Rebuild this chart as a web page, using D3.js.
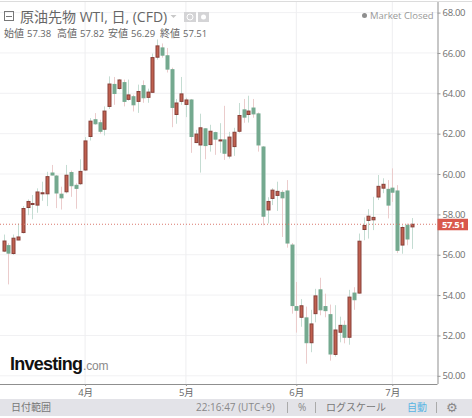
<!DOCTYPE html>
<html>
<head>
<meta charset="utf-8">
<script src="https://d3js.org/d3.v7.min.js"></script>
<style>
    html, body { margin: 0; padding: 0; background: #fff; }
    svg { display: block; }
    text { font-family: "Open Sans", "Noto Sans CJK JP", sans-serif; }
</style>
</head>
<body>
<svg width="472" height="418"></svg>
<script type="text/javascript">
    var opens = [56.18,56.45,56.06,56.73,57.10,58.34,58.49,58.46,59.02,59.02,60.05,59.90,59.00,59.12,60.07,59.44,59.52,60.20,61.86,62.69,62.54,62.22,63.35,64.44,64.24,64.53,63.70,63.83,63.60,64.38,63.80,64.05,65.79,66.25,65.86,65.17,62.95,63.60,63.45,63.67,61.56,61.44,62.24,61.46,62.05,61.64,61.69,60.89,61.36,62.12,63.18,62.95,63.27,62.98,61.34,58.22,58.79,58.94,59.09,59.16,56.48,53.43,52.90,52.87,51.64,53.08,54.26,53.43,53.03,51.06,52.16,52.50,51.91,54.10,54.10,57.25,57.70,57.73,58.86,59.30,59.24,59.30,59.16,56.48,57.46,57.38];
    var highs = [57.00,56.57,57.00,57.55,58.41,58.74,58.96,59.29,59.62,60.11,60.45,59.95,59.37,60.45,60.17,59.54,60.73,61.83,62.77,63.02,62.69,63.35,64.84,64.81,64.71,64.68,64.68,63.93,64.43,64.64,64.23,65.97,66.67,66.47,66.25,65.27,63.72,64.81,63.78,63.72,62.19,62.99,62.27,62.44,62.10,62.52,63.38,62.09,62.29,63.52,63.72,63.88,63.72,63.05,61.39,58.85,59.30,59.62,59.20,59.70,56.58,54.65,53.80,53.43,53.27,54.31,54.86,54.07,53.53,53.50,52.93,52.74,54.26,54.39,57.05,57.85,58.26,58.87,59.95,59.79,59.70,60.28,59.45,57.46,57.55,57.82];
    var lows = [56.13,54.53,55.99,56.72,57.05,57.96,57.76,58.08,58.67,58.41,59.93,58.31,58.24,59.04,58.87,58.28,59.45,60.15,61.66,62.44,62.00,61.91,63.22,63.43,64.18,63.35,63.63,63.10,63.03,63.53,63.53,64.03,65.67,65.77,65.03,62.32,62.49,63.43,62.82,61.05,61.53,60.07,60.73,61.11,60.95,61.05,60.70,60.77,60.90,62.05,62.54,62.55,62.79,61.11,57.46,57.55,58.46,58.17,56.88,56.35,53.08,52.14,52.43,50.60,51.17,52.65,53.00,52.90,50.75,50.95,51.66,51.61,51.54,53.27,54.07,56.72,56.80,57.22,58.71,59.05,57.80,58.62,56.08,56.05,56.47,56.29];
    var closes = [56.68,56.08,56.82,56.88,58.29,58.64,58.54,59.11,59.07,59.87,59.95,59.06,58.82,59.94,59.42,59.29,60.13,61.64,62.62,62.49,62.12,63.12,64.46,63.99,64.66,63.60,63.92,63.43,64.09,63.78,64.06,65.77,66.35,65.89,65.20,63.30,63.52,63.97,63.67,61.86,61.98,62.29,61.41,62.12,61.73,61.69,61.03,61.83,62.07,62.90,62.82,63.12,62.98,61.44,57.91,58.64,59.20,59.14,58.82,56.58,53.48,53.25,53.47,51.64,52.57,53.96,53.27,53.23,51.08,52.27,52.50,51.91,53.90,53.77,56.67,57.45,57.91,57.85,59.39,59.49,58.46,59.10,56.22,57.35,56.78,57.51];

    var priceTicks = [50, 52, 54, 56, 58, 60, 62, 64, 66, 68];
    var monthLabels = ["4月", "5月", "6月", "7月"];
    var monthIndexes = [17, 38, 61, 81];
    var lastPrice = 57.51;
    var ohlcLabels = ["始値", "高値", "安値", "終値"];
    var ohlcValues = ["57.38", "57.82", "56.29", "57.51"];

    var svg = d3.select("svg");

    var plotRight = 437.5, plotBottom = 384;
    var x = d3.scaleLinear().domain([0, opens.length - 1]).range([3.5, 411.5]);
    var y = d3.scaleLinear().domain([50, 68]).range([375.8, 12.6]);

    // grid
    svg.append("line").attr("x1", 0).attr("x2", 472).attr("y1", 1.5).attr("y2", 1.5).attr("stroke", "#dcdcdc");

    svg.append("g").selectAll("line").data(priceTicks).enter().append("line")
        .attr("x1", 0).attr("x2", plotRight)
        .attr("y1", d => y(d)).attr("y2", d => y(d))
        .attr("stroke", "#f1f1f3");

    svg.append("g").selectAll("line").data(monthIndexes).enter().append("line")
        .attr("x1", d => x(d)).attr("x2", d => x(d))
        .attr("y1", 2).attr("y2", plotBottom)
        .attr("stroke", "#eeeef0");

    // axes
    var yAxis = svg.append("g")
        .attr("transform", "translate(" + plotRight + ",0)")
        .call(d3.axisRight(y).tickValues(priceTicks).tickFormat(d3.format(".2f")).tickSize(3).tickPadding(2));
    yAxis.select(".domain").attr("stroke", "#8f8f8f").attr("d", "M0.5,2V" + plotBottom);
    yAxis.selectAll(".tick line").attr("stroke", "#999");
    yAxis.selectAll("text").attr("fill", "#707070").attr("letter-spacing", "-0.3").style("font-size", "9.5px");

    var xAxis = svg.append("g")
        .attr("transform", "translate(0," + plotBottom + ")")
        .call(d3.axisBottom(x).tickValues(monthIndexes).tickFormat((d, i) => monthLabels[i]).tickSize(2).tickPadding(3));
    xAxis.select(".domain").attr("stroke", "#8f8f8f").attr("d", "M0,0.5H" + plotRight);
    xAxis.selectAll(".tick line").attr("stroke", "#999");
    xAxis.selectAll("text").attr("fill", "#666").style("font-size", "9.5px");

    // candles
    var candles = svg.append("g").selectAll("g")
        .data(d3.range(opens.length))
        .enter()
        .append("g");

    candles.append("line")
        .attr("x1", i => Math.round(x(i)) + 0.5).attr("x2", i => Math.round(x(i)) + 0.5)
        .attr("y1", i => y(highs[i])).attr("y2", i => y(lows[i]))
        .attr("stroke", i => closes[i] >= opens[i] ? "#c4dcd2" : "#ebcccc");

    candles.append("rect")
        .attr("x", i => Math.round(x(i)) - 1)
        .attr("width", 3)
        .attr("y", i => y(Math.max(opens[i], closes[i])))
        .attr("height", i => Math.max(1, Math.abs(y(opens[i]) - y(closes[i]))))
        .attr("fill", i => closes[i] >= opens[i] ? "#c0604f" : "#74a98f")
        .attr("stroke", i => closes[i] >= opens[i] ? "#87403a" : "#74a98f")
        .attr("stroke-width", 1);

    // last price line and label
    svg.append("line")
        .attr("x1", 0).attr("x2", plotRight)
        .attr("y1", y(lastPrice)).attr("y2", y(lastPrice))
        .attr("stroke", "#d9786e").attr("stroke-dasharray", "1,2");
    svg.append("rect")
        .attr("x", plotRight).attr("y", y(lastPrice) - 5.5)
        .attr("width", 30.5).attr("height", 11.5)
        .attr("fill", "#d9584c");
    svg.append("text")
        .attr("x", plotRight + 4.5).attr("y", y(lastPrice) + 3.6)
        .attr("fill", "#fff").attr("font-size", 9.5).attr("font-weight", "bold").attr("letter-spacing", "-0.4")
        .text(d3.format(".2f")(lastPrice));

    // header
    svg.append("rect").attr("x", 4.5).attr("y", 11.5).attr("width", 9).attr("height", 9)
        .attr("fill", "none").attr("stroke", "#777");
    svg.append("line").attr("x1", 6).attr("x2", 12).attr("y1", 16.5).attr("y2", 16.5).attr("stroke", "#777");
    svg.append("text").attr("x", 20).attr("y", 22).attr("fill", "#666").attr("font-size", 14)
        .text("原油先物 WTI, 日, (CFD)");
    svg.append("path").attr("d", "M170.5,15h6l-3,3z").attr("fill", "#c8c8c8");
    svg.append("rect").attr("x", 184).attr("y", 12).attr("width", 12).attr("height", 10).attr("fill", "#d4d4d6");
    svg.append("rect").attr("x", 198).attr("y", 12).attr("width", 11).attr("height", 10).attr("fill", "#d4d4d6");
    svg.append("circle").attr("cx", 190).attr("cy", 17).attr("r", 3).attr("fill", "none").attr("stroke", "#fff");
    svg.append("circle").attr("cx", 203.5).attr("cy", 17).attr("r", 2.5).attr("fill", "#fff");

    var ohlcX = [4, 57, 108, 160];
    ohlcLabels.forEach((d, i) => {
        svg.append("text").attr("x", ohlcX[i]).attr("y", 37).attr("fill", "#666").attr("font-size", 10).text(d);
        svg.append("text").attr("x", ohlcX[i] + 23).attr("y", 37).attr("fill", "#666").attr("font-size", 9.5).text(ohlcValues[i]);
    });

    svg.append("circle").attr("cx", 364.5).attr("cy", 15.5).attr("r", 2.5).attr("fill", "#8e8e8e");
    svg.append("text").attr("x", 370).attr("y", 19).attr("fill", "#999").attr("font-size", 9.5).text("Market Closed");

    // logo
    svg.append("text").attr("x", 10).attr("y", 370).attr("fill", "#111")
        .attr("font-size", 18).attr("font-weight", "bold").attr("letter-spacing", "-0.75")
        .style("font-family", "'Liberation Sans'").text("Investing");
    svg.append("text").attr("x", 83).attr("y", 370).attr("fill", "#8a8a8a")
        .attr("font-size", 12).attr("letter-spacing", "-0.2").style("font-family", "'Liberation Sans'").text(".com");

    // bottom bar
    svg.append("rect").attr("x", 0).attr("y", 399).attr("width", 472).attr("height", 17).attr("fill", "#e3e3e8");
    var barLabels = [
        ["日付範囲", 11, "#777"], ["22:16:47 (UTC+9)", 196, "#888"], ["%", 298, "#888"],
        ["ログスケール", 326, "#777"], ["自動", 407, "#59b4e3"]
    ];
    svg.append("g").selectAll("text").data(barLabels).enter().append("text")
        .attr("x", d => d[1]).attr("y", 411)
        .attr("fill", d => d[2]).attr("font-size", 10)
        .text(d => d[0]);
    svg.append("g").selectAll("line").data([287.5, 315.5, 436.5]).enter().append("line")
        .attr("x1", d => d).attr("x2", d => d).attr("y1", 402).attr("y2", 413).attr("stroke", "#aaa");
    svg.append("text").attr("x", 446).attr("y", 412).attr("fill", "#888").attr("font-size", 13)
        .style("font-family", "'DejaVu Sans'").text("⚙");
</script>
</body>
</html>
